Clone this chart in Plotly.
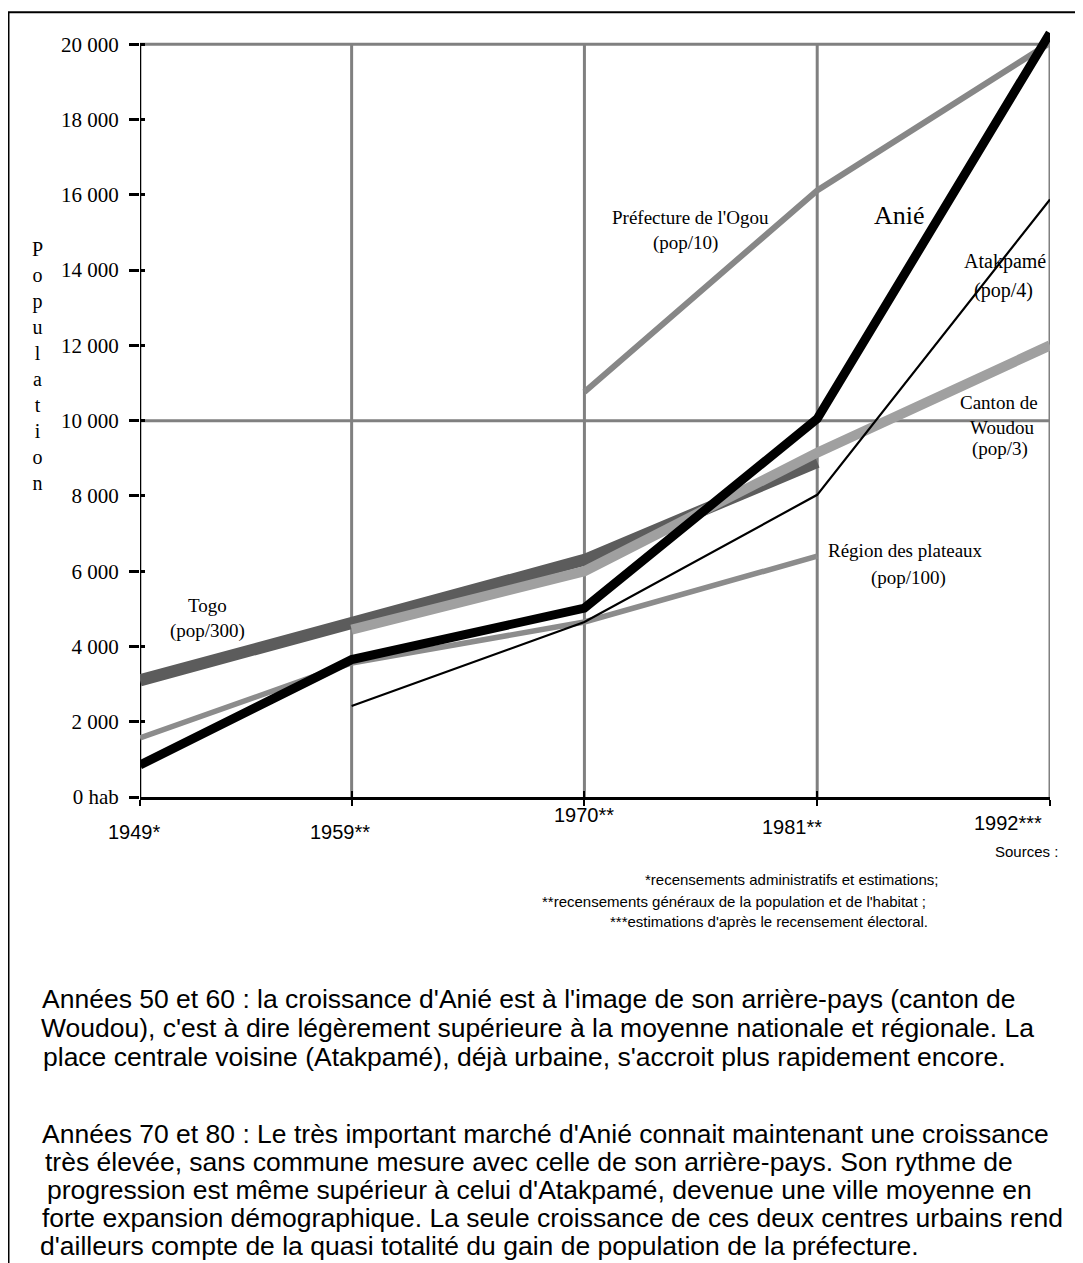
import plotly.graph_objects as go

# ---------------- data ----------------
years = [1949, 1959, 1970, 1981, 1992]
year_labels = ["1949*", "1959**", "1970**", "1981**", "1992***"]

anie = [850, 3650, 5020, 10050, 20300]
togo = [3100, 4650, 6300, 8900, None]
woudou = [None, 4450, 6000, 9150, 12000]
atakpame = [None, 2420, 4650, 8030, 15880]
plateaux = [1570, 3560, 4650, 6400, None]
ogou = [None, None, 10760, 16120, 20040]

ytick_vals = [0, 2000, 4000, 6000, 8000, 10000, 12000, 14000, 16000, 18000, 20000]
ytick_text = ["0 hab", "2 000", "4 000", "6 000", "8 000", "10 000", "12 000",
              "14 000", "16 000", "18 000", "20 000"]
hgrid_vals = [10000, 20000]
y_axis_max = 20000

# ---------------- geometry (page pixels; page has an 8px body margin) ----------------
OFF = 8
W, H = 1083 - OFF, 1263 - OFF
L, R, B = 140, 1050, 797          # page px of plot area
T20 = 44                           # page px of y = 20 000
YTOP = 20700                       # head-room so the Anié line is not clipped
PXU = (B - T20) / 20000.0          # px per unit
T = B - YTOP * PXU                 # page px of plot top
X0, X1 = years[0], years[-1]


def PX(px):
    return (px - L) / (R - L)


def PY(py):
    return (B - py) / (B - T)


SERIF = "Liberation Serif, Times New Roman, serif"
SANS = "Liberation Sans, Arial, sans-serif"

fig = go.Figure()

series = [
    ("Togo", togo, "#5c5c5c", 12),
    ("Woudou", woudou, "#a0a0a0", 10),
    ("Plateaux", plateaux, "#8c8c8c", 5.5),
    ("Ogou", ogou, "#878787", 6),
    ("Atakpamé", atakpame, "#000000", 2.2),
    ("Anié", anie, "#000000", 9),
]
for name, vals, col, w in series:
    fig.add_trace(go.Scatter(
        x=years, y=vals, mode="lines", name=name,
        line=dict(color=col, width=w), connectgaps=False,
        cliponaxis=False, hoverinfo="skip", showlegend=False))

# dummy trace for the overlaid axes (inner half of the cross ticks)
fig.add_trace(go.Scatter(x=[years[0]], y=[0], xaxis="x2", yaxis="y2",
                         mode="markers", marker=dict(opacity=0),
                         hoverinfo="skip", showlegend=False))

fig.update_layout(
    width=W, height=H,
    margin=dict(l=L - OFF, r=W - (R - OFF), t=T - OFF, b=H - (B - OFF), pad=0),
    paper_bgcolor="white", plot_bgcolor="white",
    showlegend=False,
    xaxis=dict(range=[X0, X1], tickvals=years, showticklabels=False,
               showgrid=False, showline=True, linecolor="black", linewidth=2.5,
               ticks="outside", ticklen=6, tickwidth=2, tickcolor="black",
               zeroline=False, layer="below traces"),
    yaxis=dict(range=[0, YTOP], tickvals=ytick_vals, ticktext=ytick_text,
               showgrid=False, zeroline=False, showline=False,
               ticks="outside", ticklen=10, tickwidth=2.5, tickcolor="black",
               tickfont=dict(family=SERIF, size=21, color="black"),
               ticklabelstandoff=6, layer="below traces"),
    xaxis2=dict(range=[X0, X1], overlaying="x", anchor="y2", tickvals=years,
                showticklabels=False, showgrid=False, zeroline=False,
                showline=False, ticks="inside", ticklen=6, tickwidth=2,
                tickcolor="black"),
    yaxis2=dict(range=[0, YTOP], overlaying="y", anchor="x2", tickvals=ytick_vals,
                showticklabels=False, showgrid=False, zeroline=False,
                showline=False, ticks="inside", ticklen=5, tickwidth=2.5,
                tickcolor="black"),
)

# vertical grid lines (0 .. 20 000) at each census year
for yr in years[1:]:
    fig.add_shape(type="line", xref="x", yref="y", x0=yr, x1=yr, y0=0, y1=y_axis_max,
                  line=dict(color="#808080", width=3), layer="below")
# horizontal grid lines (only 10 000 and 20 000)
for v in hgrid_vals:
    fig.add_shape(type="line", xref="x", yref="y", x0=X0, x1=X1, y0=v, y1=v,
                  line=dict(color="#808080", width=3), layer="below")
# y axis line
fig.add_shape(type="line", xref="x", yref="y", x0=X0, x1=X0, y0=0, y1=y_axis_max,
              line=dict(color="black", width=2.5), layer="below")

# outer frame
fig.add_shape(type="rect", xref="paper", yref="paper",
              x0=PX(8.5), x1=PX(1100), y0=PY(1290), y1=PY(12),
              line=dict(color="black", width=2), layer="below")

ann = []


def add_text(txt, px, py, size, family, xanchor="center"):
    ann.append(dict(x=PX(px), y=PY(py), xref="paper", yref="paper", text=txt,
                    showarrow=False, xanchor=xanchor, yanchor="middle",
                    font=dict(family=family, size=size, color="black")))


# x labels (page px centres)
xlab_pos = [(134, 832), (340, 832), (584, 815), (792, 827), (1008, 823)]
for txt, (cx, cy) in zip(year_labels, xlab_pos):
    add_text(txt, cx, cy, 20, SANS)

# y axis title (stacked letters)
add_text("<br>".join(list("Population")), 37, 366, 20, SERIF)

# series labels
labels = [
    ("Togo", 207, 605, 19),
    ("(pop/300)", 207, 631, 19),
    ("Préfecture de l'Ogou", 690, 217, 19),
    ("(pop/10)", 685, 243, 19),
    ("Anié", 899, 215, 26),
    ("Atakpamé", 1005, 261, 20),
    ("(pop/4)", 1003, 290, 20),
    ("Canton de", 999, 402, 19),
    ("Woudou", 1002, 427, 19),
    ("(pop/3)", 1000, 449, 19),
    ("Région des plateaux", 905, 550, 19),
    ("(pop/100)", 908, 578, 19),
]
for txt, cx, cy, fs in labels:
    add_text(txt, cx, cy, fs, SERIF)

# sources (right aligned)
sources = [
    ("Sources :", 1060, 852),
    ("*recensements administratifs et estimations;", 940, 880),
    ("**recensements généraux de la population et de l'habitat ;", 928, 902),
    ("***estimations d'après le recensement électoral.", 930, 922),
]
for txt, rx, cy in sources:
    add_text(txt, rx, cy, 15, SANS, xanchor="right")

# commentary paragraphs (left aligned)
para = [
    ("Années 50 et 60 : la croissance d'Anié est à l'image de son arrière-pays (canton de", 40, 999),
    ("Woudou), c'est à dire légèrement supérieure à la moyenne nationale et régionale. La", 39, 1028),
    ("place centrale voisine (Atakpamé), déjà urbaine, s'accroit plus rapidement encore.", 41, 1057),
    ("Années 70 et 80 : Le très important marché d'Anié connait maintenant une croissance", 40, 1134),
    ("très élevée, sans commune mesure avec celle de son arrière-pays. Son rythme de", 43, 1162),
    ("progression est même supérieur à celui d'Atakpamé, devenue une ville moyenne en", 45, 1190),
    ("forte expansion démographique. La seule croissance de ces deux centres urbains rend", 40, 1218),
    ("d'ailleurs compte de la quasi totalité du gain de population de la préfecture.", 38, 1246),
]
for txt, lx, cy in para:
    add_text(txt, lx, cy, 26.5, SANS, xanchor="left")

fig.update_layout(annotations=ann)

fig.write_html("out.html")
